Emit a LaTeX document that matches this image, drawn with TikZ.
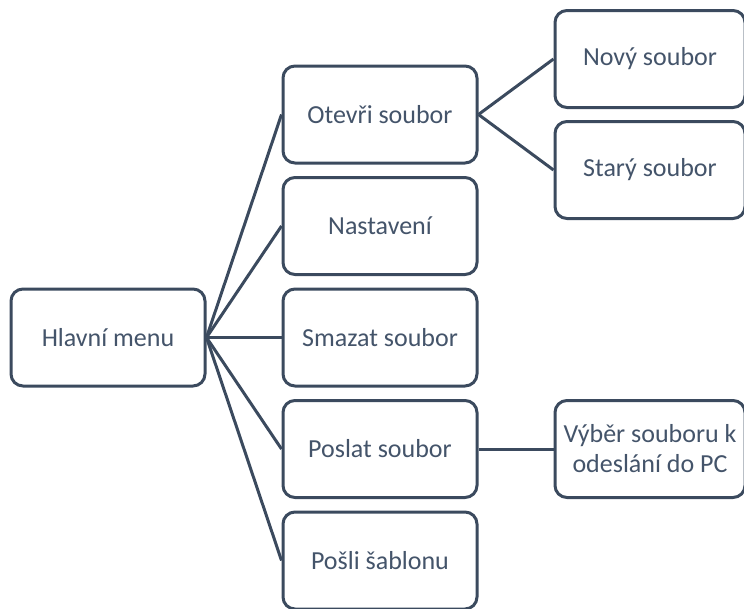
\documentclass[tikz,border=0pt]{standalone}
\usepackage{fontspec}
\setmainfont{Carlito}
\definecolor{edgecol}{HTML}{3B4A5E}
\definecolor{textcol}{HTML}{44546A}
\begin{document}
\begin{tikzpicture}[x=1pt,y=-1pt,
  menubox/.style={draw=edgecol, line width=3pt, rounded corners=12pt,
    fill=white, text=textcol, align=center, inner sep=0pt,
    minimum width=194pt, minimum height=97pt,
    font=\fontsize{26}{30}\selectfont},
  leafbox/.style={menubox, minimum width=190pt},
  link/.style={draw=edgecol, line width=3pt}]
\useasboundingbox (0,0) rectangle (744,608);
\clip (0,0) rectangle (744,608);
% root
\node[menubox] (hlavni) at (108,337.5) {Hlavní menu};
% second level
\node[menubox] (otevri)  at (380,114.5) {Otevři soubor};
\node[menubox] (nastav)  at (380,226)   {Nastavení};
\node[menubox] (smazat)  at (380,337.5) {Smazat soubor};
\node[menubox] (poslat)  at (380,449)   {Poslat soubor};
\node[menubox] (sablona) at (380,560.5) {Pošli šablonu};
% third level
\node[leafbox] (novy)  at (650,59)  {Nový soubor};
\node[leafbox] (stary) at (650,170) {Starý soubor};
\node[leafbox] (vyber) at (650,449) {Výběr souboru k\\odeslání do PC};
% connectors
\foreach \t in {otevri,nastav,smazat,poslat,sablona}
  \draw[link] (hlavni.east) -- (\t.west);
\draw[link] (otevri.east) -- (novy.west);
\draw[link] (otevri.east) -- (stary.west);
\draw[link] (poslat.east) -- (vyber.west);
\end{tikzpicture}
\end{document}
